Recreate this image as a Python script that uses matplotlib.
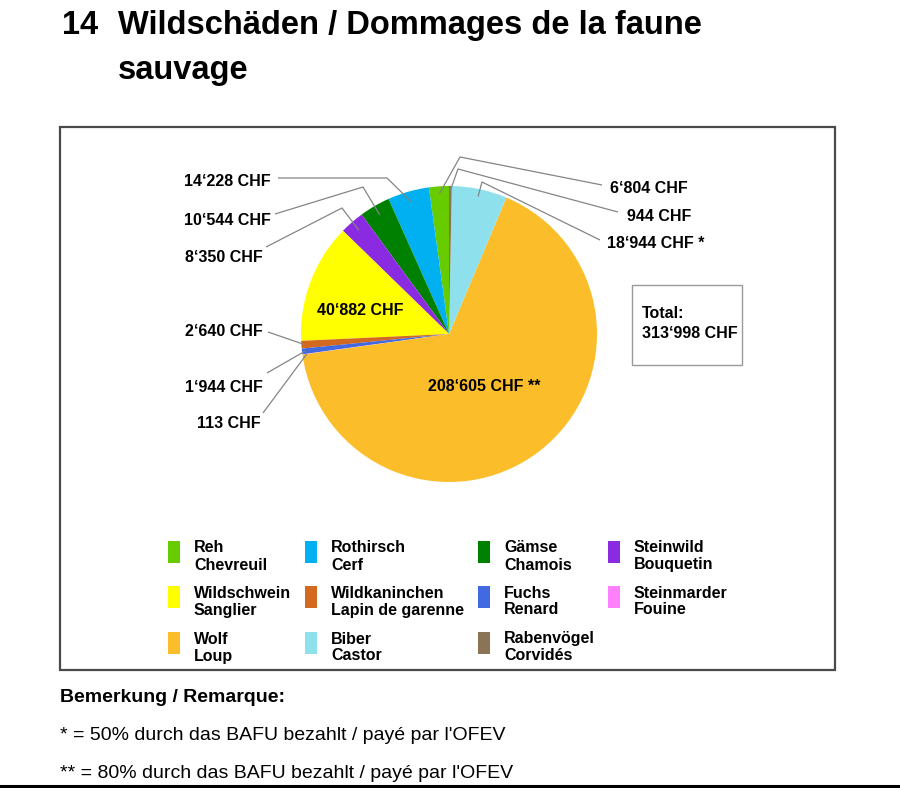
import matplotlib
matplotlib.use("Agg")
import matplotlib.pyplot as plt
import numpy as np
from matplotlib.patches import Rectangle

## data
species_de = ["Reh", "Rothirsch", "Gämse", "Steinwild", "Wildschwein", "Wildkaninchen",
              "Fuchs", "Steinmarder", "Wolf", "Biber", "Rabenvögel"]
species_fr = ["Chevreuil", "Cerf", "Chamois", "Bouquetin", "Sanglier", "Lapin de garenne",
              "Renard", "Fouine", "Loup", "Castor", "Corvidés"]
damage_chf = [6804, 14228, 10544, 8350, 40882, 2640, 1944, 113, 208605, 18944, 944]
footnote = ["", "", "", "", "", "", "", "", " **", " *", ""]
colors = ["#66CC00", "#00B0F0", "#008000", "#8A2BE2", "#FFFF00", "#D2691E",
          "#4169E1", "#FF80FF", "#FBBE2A", "#8EE0EC", "#8B7355"]

title_no = "14"
title_lines = ["Wildschäden / Dommages de la faune", "sauvage"]
remark_title = "Bemerkung / Remarque:"
remarks = ["* = 50% durch das BAFU bezahlt / payé par l'OFEV",
           "** = 80% durch das BAFU bezahlt / payé par l'OFEV"]

W, H = 900, 788
FONT = "Liberation Sans"
LINE = "#858585"

# pie placement in pixels (centre and radius)
CX, CY, R = 449, 334, 148

# label layout: text anchor (px), alignment, leader path (px), radius of end point
outside = {
    0: dict(txt=(610, 188), ha="left", path=[(602, 185), (460, 157)], r=0.95),
    1: dict(txt=(271, 181), ha="right", path=[(278, 178), (387, 178)], r=0.93),
    2: dict(txt=(271, 220), ha="right", path=[(275, 214), (363, 187)], r=0.93),
    3: dict(txt=(263, 258), ha="right", path=[(266, 247), (342, 208)], r=0.93),
    5: dict(txt=(263, 331), ha="right", path=[(268, 332)], r=0.98),
    6: dict(txt=(263, 387), ha="right", path=[(267, 373)], r=0.98),
    7: dict(txt=(261, 423), ha="right", path=[(263, 413)], r=0.97),
    9: dict(txt=(607, 243), ha="left", path=[(600, 240), (482, 182)], r=0.95),
    10: dict(txt=(627, 216), ha="left", path=[(618, 212), (458, 169)], r=0.97),
}
inside = {4: (360, 310), 8: (484, 386)}


def chf(v):
    return f"{v:,}".replace(",", "\u2018") + " CHF"


fig = plt.figure(figsize=(W / 100, H / 100), dpi=100)

ax = fig.add_axes([(CX - R) / W, 1 - (CY + R) / H, 2 * R / W, 2 * R / H])
wedges, _ = ax.pie(damage_chf, colors=colors, startangle=90, counterclock=True,
                   wedgeprops=dict(linewidth=0))
ax.set_xlim(-1, 1)
ax.set_ylim(-1, 1)
ax.set_aspect("equal")
ax.axis("off")

# overlay in pixel coordinates
bg = fig.add_axes([0, 0, 1, 1])
bg.set_xlim(0, W)
bg.set_ylim(H, 0)
bg.axis("off")
bg.patch.set_alpha(0)

fig.canvas.draw()


def pie_to_px(x, y):
    return bg.transData.inverted().transform(ax.transData.transform((x, y)))


# leader lines and value labels
for i, lay in outside.items():
    w = wedges[i]
    mid = np.deg2rad((w.theta1 + w.theta2) / 2)
    end = pie_to_px(lay["r"] * np.cos(mid), lay["r"] * np.sin(mid))
    pts = lay["path"] + [tuple(end)]
    xs = [p[0] for p in pts]
    ys = [p[1] for p in pts]
    bg.plot(xs, ys, color=LINE, lw=0.9, solid_capstyle="butt")
    bg.text(lay["txt"][0], lay["txt"][1], chf(damage_chf[i]) + footnote[i],
            ha=lay["ha"], va="center", fontsize=11.5, fontweight="bold", family=FONT)

for i, pos in inside.items():
    bg.text(pos[0], pos[1], chf(damage_chf[i]) + footnote[i], ha="center", va="center",
            fontsize=11.5, fontweight="bold", family=FONT)

# chart frame
bg.add_patch(Rectangle((60, 127), 775, 543, fill=False, edgecolor="#4a4a4a", lw=1.6))

# total box
bg.add_patch(Rectangle((632, 285), 110, 80, fill=False, edgecolor="#9a9a9a", lw=1.0))
bg.text(642, 313, "Total:", ha="left", va="center", fontsize=11.5, fontweight="bold", family=FONT)
bg.text(642, 333, chf(sum(damage_chf)), ha="left", va="center", fontsize=11.5,
        fontweight="bold", family=FONT)

# legend
col_x = [168, 305, 478, 608]
row_y = [552, 597, 643]
for k in range(len(species_de)):
    cx = col_x[k % 4]
    cy = row_y[k // 4]
    bg.add_patch(Rectangle((cx, cy - 11), 12, 22, facecolor=colors[k], edgecolor="none"))
    bg.text(cx + 26, cy - 4, species_de[k], ha="left", va="center", fontsize=11.5,
            fontweight="bold", family=FONT)
    bg.text(cx + 26, cy + 13, species_fr[k], ha="left", va="center", fontsize=11.5,
            fontweight="bold", family=FONT)

# title
bg.text(62, 25, title_no, ha="left", va="center", fontsize=23.5, fontweight="bold", family=FONT)
bg.text(118, 25, title_lines[0], ha="left", va="center", fontsize=23.5, fontweight="bold", family=FONT)
bg.text(118, 70, title_lines[1], ha="left", va="center", fontsize=23.5, fontweight="bold", family=FONT)

# remarks
bg.text(60, 697, remark_title, ha="left", va="center", fontsize=14, fontweight="bold", family=FONT)
bg.text(60, 735, remarks[0], ha="left", va="center", fontsize=14, family=FONT)
bg.text(60, 773, remarks[1], ha="left", va="center", fontsize=14, family=FONT)

# page rule at the bottom
bg.plot([0, W], [786, 786], color="black", lw=2.2)

fig.savefig("out.png", dpi=100, facecolor="white")
